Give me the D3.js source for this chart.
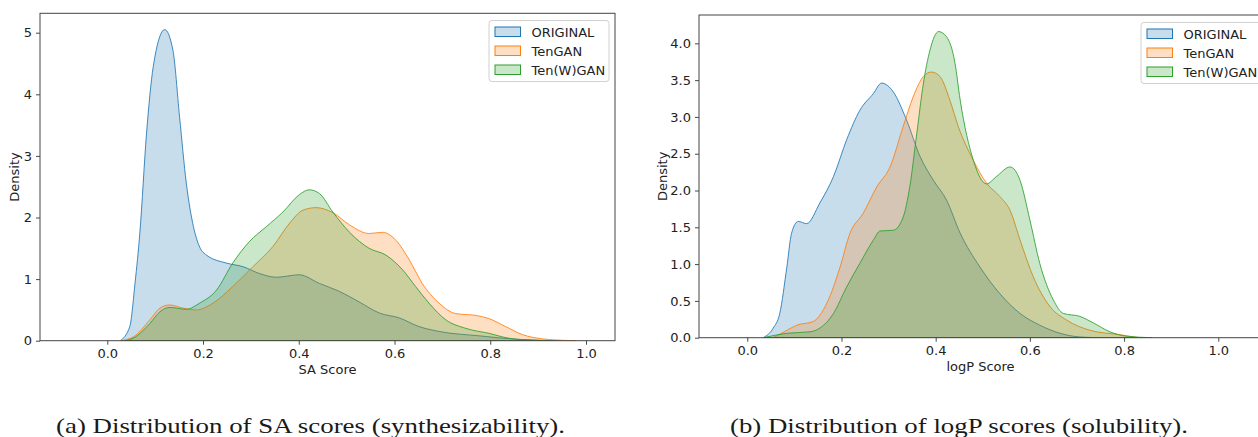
<!DOCTYPE html>
<html>
<head>
<meta charset="utf-8">
<script src="https://cdn.jsdelivr.net/npm/d3@7"></script>
<style>
  body { margin: 0; background: #fff; }
  svg { display: block; }
</style>
</head>
<body>
<div id="chart"></div>
<script>
// series names and colours (matplotlib tab10)
const seriesNames = ["ORIGINAL", "TenGAN", "Ten(W)GAN"];
const seriesColors = ["#1f77b4", "#ff7f0e", "#2ca02c"];

// KDE curves: [score, density]
const saOriginal = [[0.027,0],[0.047,0.23],[0.058,0.94],[0.068,1.75],[0.082,3.37],[0.096,4.45],[0.12,5.05],[0.137,4.72],[0.151,3.63],[0.165,2.56],[0.18,1.85],[0.193,1.52],[0.207,1.39],[0.249,1.26],[0.284,1.2],[0.318,1.09],[0.353,1.03],[0.401,1.07],[0.443,0.93],[0.485,0.8],[0.526,0.63],[0.568,0.45],[0.61,0.37],[0.651,0.23],[0.693,0.15],[0.776,0.08],[0.86,0.02],[0.95,0]];
const saTenGAN = [[0.027,0],[0.054,0.06],[0.089,0.34],[0.11,0.53],[0.13,0.58],[0.158,0.53],[0.186,0.5],[0.221,0.61],[0.262,0.88],[0.304,1.2],[0.346,1.53],[0.381,1.91],[0.409,2.12],[0.436,2.16],[0.471,2.08],[0.506,1.88],[0.547,1.74],[0.575,1.76],[0.603,1.63],[0.631,1.31],[0.658,0.93],[0.693,0.61],[0.728,0.44],[0.77,0.41],[0.797,0.36],[0.832,0.23],[0.867,0.1],[0.909,0.03],[0.957,0.005],[0.98,0]];
const saTenWGAN = [[0.037,0],[0.054,0.04],[0.089,0.28],[0.11,0.47],[0.13,0.54],[0.165,0.51],[0.193,0.61],[0.228,0.82],[0.262,1.26],[0.297,1.61],[0.332,1.85],[0.367,2.09],[0.401,2.37],[0.422,2.45],[0.443,2.39],[0.471,2.09],[0.506,1.76],[0.547,1.5],[0.582,1.39],[0.617,1.15],[0.644,0.88],[0.672,0.61],[0.707,0.34],[0.749,0.2],[0.797,0.12],[0.839,0.04],[0.888,0.01],[0.93,0]];

const logpOriginal = [[0.034,0],[0.055,0.13],[0.069,0.33],[0.084,0.96],[0.094,1.42],[0.108,1.58],[0.126,1.55],[0.154,1.83],[0.183,2.19],[0.211,2.69],[0.239,3.09],[0.268,3.32],[0.285,3.46],[0.31,3.34],[0.338,2.96],[0.367,2.46],[0.395,2.14],[0.423,1.87],[0.452,1.42],[0.494,0.96],[0.536,0.6],[0.579,0.33],[0.621,0.17],[0.664,0.06],[0.706,0.01],[0.75,0]];
const logpTenGAN = [[0.055,0],[0.084,0.1],[0.105,0.17],[0.14,0.22],[0.169,0.47],[0.197,0.96],[0.218,1.42],[0.246,1.69],[0.275,2.05],[0.303,2.32],[0.331,2.87],[0.352,3.27],[0.374,3.55],[0.391,3.61],[0.409,3.55],[0.43,3.23],[0.448,2.87],[0.48,2.41],[0.508,2.1],[0.536,1.92],[0.558,1.73],[0.579,1.33],[0.607,0.83],[0.643,0.42],[0.678,0.24],[0.728,0.1],[0.792,0.04],[0.83,0]];
const logpTenWGAN = [[0.034,0],[0.084,0.06],[0.133,0.08],[0.154,0.13],[0.183,0.33],[0.211,0.69],[0.239,1.01],[0.268,1.33],[0.282,1.45],[0.31,1.46],[0.331,1.64],[0.345,2.05],[0.36,2.78],[0.374,3.46],[0.388,3.91],[0.406,4.16],[0.423,4.09],[0.441,3.73],[0.452,3.23],[0.48,2.41],[0.508,2.09],[0.529,2.19],[0.558,2.32],[0.579,2.14],[0.6,1.6],[0.621,1.01],[0.65,0.51],[0.671,0.33],[0.706,0.29],[0.735,0.2],[0.77,0.08],[0.806,0.02],[0.86,0]];

// axis ticks
const xTicks = [0, 0.2, 0.4, 0.6, 0.8, 1.0];
const saYTicks = [0, 1, 2, 3, 4, 5];
const logpYTicks = [0, 0.5, 1, 1.5, 2, 2.5, 3, 3.5, 4];

const W = 1258, H = 437;
const svg = d3.select("#chart").append("svg")
    .attr("width", W).attr("height", H);

const tickFont = "'DejaVu Sans', sans-serif";

function panel(opts) {
    const x = d3.scaleLinear().domain(opts.xDomain).range([opts.left, opts.right]);
    const y = d3.scaleLinear().domain(opts.yDomain).range([opts.bottom, opts.top]);
    const g = svg.append("g");

    g.append("defs").append("clipPath").attr("id", opts.id + "-clip")
        .append("rect")
        .attr("x", opts.left).attr("y", opts.top)
        .attr("width", opts.right - opts.left).attr("height", opts.bottom - opts.top);

    const area = d3.area()
        .x(d => x(d[0]))
        .y0(y(0))
        .y1(d => y(d[1]))
        .curve(d3.curveMonotoneX);

    const plot = g.append("g").attr("clip-path", `url(#${opts.id}-clip)`);
    opts.series.forEach((s, i) => {
        plot.append("path")
            .datum(s)
            .attr("d", d => area(d) + "Z")
            .attr("fill", seriesColors[i])
            .attr("fill-opacity", 0.25)
            .attr("stroke", seriesColors[i])
            .attr("stroke-opacity", 0.85)
            .attr("stroke-width", 1)
            .attr("stroke-linejoin", "round");
    });

    // axes
    const xAxis = g.append("g")
        .attr("transform", `translate(0,${opts.bottom})`)
        .call(d3.axisBottom(x).tickValues(xTicks).tickFormat(d3.format(".1f")).tickSize(4).tickPadding(4));
    const yAxis = g.append("g")
        .attr("transform", `translate(${opts.left},0)`)
        .call(d3.axisLeft(y).tickValues(opts.yTicks).tickFormat(opts.yFormat).tickSize(4).tickPadding(4));
    [xAxis, yAxis].forEach(a => {
        a.select(".domain").remove();
        a.selectAll("line").attr("stroke", "#333").attr("stroke-width", 0.9);
        a.selectAll("text").attr("fill", "#222")
            .style("font-family", tickFont).style("font-size", "13px");
    });

    // frame
    g.append("rect")
        .attr("x", opts.left).attr("y", opts.top)
        .attr("width", opts.right - opts.left).attr("height", opts.bottom - opts.top)
        .attr("fill", "none").attr("stroke", "#444").attr("stroke-width", 1);

    // axis labels
    g.append("text")
        .attr("x", (opts.left + opts.right) / 2).attr("y", opts.bottom + 33)
        .attr("text-anchor", "middle")
        .style("font-family", tickFont).style("font-size", "13px").attr("fill", "#222")
        .text(opts.xLabel);
    g.append("text")
        .attr("transform", `translate(${opts.yLabelX},${(opts.top + opts.bottom) / 2}) rotate(-90)`)
        .attr("text-anchor", "middle")
        .style("font-family", tickFont).style("font-size", "13px").attr("fill", "#222")
        .text("Density");

    // legend
    const lg = g.append("g").attr("transform", `translate(${opts.legendX},${opts.legendY})`);
    lg.append("rect")
        .attr("width", 120).attr("height", 61).attr("rx", 3)
        .attr("fill", "#fff").attr("fill-opacity", 0.8)
        .attr("stroke", "#d0d0d0").attr("stroke-width", 1);
    seriesNames.forEach((name, i) => {
        const row = lg.append("g").attr("transform", `translate(6,${6.5 + i * 19})`);
        row.append("rect")
            .attr("width", 25.5).attr("height", 9.5)
            .attr("fill", seriesColors[i]).attr("fill-opacity", 0.25)
            .attr("stroke", seriesColors[i]).attr("stroke-width", 1);
        row.append("text")
            .attr("x", 36.5).attr("y", 5).attr("dy", "0.35em")
            .style("font-family", tickFont).style("font-size", "13px").attr("fill", "#222")
            .text(name);
    });

    // caption
    svg.append("text")
        .attr("x", opts.capX).attr("y", 433)
        .attr("textLength", opts.capW).attr("lengthAdjust", "spacingAndGlyphs")
        .style("font-family", "'Liberation Serif', 'DejaVu Serif', serif")
        .style("font-size", "22px").attr("fill", "#1a1a1a")
        .text(opts.caption);
}

panel({
    id: "sa",
    left: 40, right: 615, top: 13.3, bottom: 340.7,
    xDomain: [-0.1406, 1.0606], yDomain: [0, 5.315],
    series: [saOriginal, saTenGAN, saTenWGAN],
    yTicks: saYTicks, yFormat: d3.format("d"),
    xLabel: "SA Score", yLabelX: 19,
    legendX: 489, legendY: 20.5,
    caption: "(a) Distribution of SA scores (synthesizability).",
    capX: 56, capW: 509
});

panel({
    id: "logp",
    left: 699, right: 1262, top: 15, bottom: 337.7,
    xDomain: [-0.1025, 1.0928], yDomain: [0, 4.385],
    series: [logpOriginal, logpTenGAN, logpTenWGAN],
    yTicks: logpYTicks, yFormat: d3.format(".1f"),
    xLabel: "logP Score", yLabelX: 667,
    legendX: 1141, legendY: 22.5,
    caption: "(b) Distribution of logP scores (solubility).",
    capX: 730, capW: 458
});
</script>
</body>
</html>
